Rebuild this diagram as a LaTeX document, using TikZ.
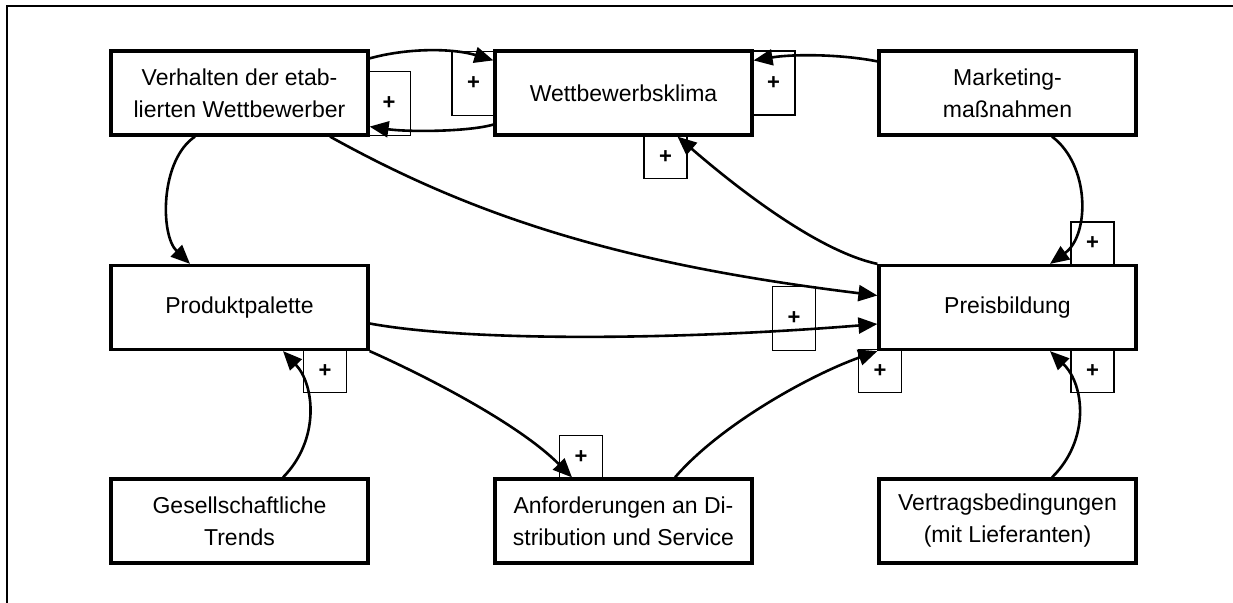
\documentclass[tikz,border=0pt]{standalone}
\usepackage{fontspec}
\setmainfont{Liberation Sans}
\usetikzlibrary{arrows.meta,calc}
\begin{document}
\begin{tikzpicture}[x=0.5pt,y=-0.5pt,
  factor/.style={draw,line width=1.6pt,fill=white,minimum width=128.5pt,minimum height=42pt,
    inner sep=0pt,align=center,font=\fontsize{11.5}{16}\selectfont},
  plusbox/.style={draw,line width=0.55pt,minimum width=21.5pt,inner sep=0pt,
    font=\fontsize{11}{12}\selectfont\bfseries},
  tall/.style={minimum height=32pt},
  short/.style={minimum height=21.5pt},
  link/.style={line width=1.3pt,-{Triangle[length=9.5pt,width=8pt]}}]
\useasboundingbox (0,0) rectangle (1233,603);
% open frame: top and left edge
\draw[line width=1.1pt] (7,603) -- (7,6) -- (1233,6);

% influence factors
\node[factor] (verh)  at (239.5,93)  {Verhalten der etab-\\lierten Wettbewerber};
\node[factor] (klima) at (623.5,93)  {Wettbewerbsklima};
\node[factor] (mark)  at (1007.5,93) {Marketing-\\maßnahmen};
\node[factor] (prod)  at (239.5,307.5) {Produktpalette};
\node[factor] (preis) at (1007.5,307.5) {Preisbildung};
\node[factor] (ges)   at (239.5,521) {Gesellschaftliche\\Trends};
\node[factor] (anf)   at (623.5,521) {Anforderungen an Di-\\stribution und Service};
\node[factor] (vert)  at (1007.5,521) {Vertragsbedingungen\\(mit Lieferanten)};

% polarity markers
\node[plusbox,tall]  (pa) at (389,103.5)  {+};
\node[plusbox,tall]  (pb) at (473.5,83.5) {+};
\node[plusbox,tall]  (pc) at (773.5,83)   {+};
\node[plusbox,short] (pd) at (665.5,157)  {+};
\node[plusbox,short] (pe) at (1092.5,243.5) {+};
\node[plusbox,tall]  (pf) at (794,318.5)  {+};
\node[plusbox,short] (pg) at (880,371)    {+};
\node[plusbox,short] (ph) at (1092.5,371) {+};
\node[plusbox,short] (pi) at (325,371)    {+};
\node[plusbox,short] (pj) at (581,457)    {+};

% causal links
\draw[link] ($(verh.north east)+(0,9)$) .. controls (407,48) and (452,48) .. ($(klima.north west)+(0,11)$);
\draw[link] ($(klima.south west)+(0,-12)$) .. controls (467,132) and (407,132) .. ($(verh.south east)+(0,-10)$);
\draw[link] ($(mark.north west)+(0,12)$) .. controls (840,54) and (793,54) .. ($(klima.north east)+(0,11)$);
\draw[link] (preis.north west) .. controls (812,250) and (722,175) .. ($(klima.south)+(54,0)$);
\draw[link] ($(verh.south)+(90.5,0)$) .. controls (480,220) and (629,265) .. ($(preis.west)+(0,-12)$);
\draw[link] ($(prod.east)+(0,16)$) .. controls (470,342) and (680,340) .. ($(preis.west)+(0,16.5)$);
\draw[link] ($(verh.south)+(-44.5,0)$) .. controls (160,160) and (160,235) .. ($(prod.north)+(-49.5,0)$);
\draw[link] ($(mark.south)+(44.5,0)$) .. controls (1090,165) and (1090,235) .. ($(preis.north)+(42.5,0)$);
\draw[link] ($(ges.north)+(43.5,0)$) .. controls (320,440) and (315,385) .. ($(prod.south)+(43.5,0)$);
\draw[link] (prod.south east) .. controls (430,378) and (520,425) .. ($(anf.north)+(-51.5,0)$);
\draw[link] ($(anf.north)+(51.5,0)$) .. controls (720,425) and (810,375) .. (preis.south west);
\draw[link] ($(vert.north)+(44.5,0)$) .. controls (1090,440) and (1085,385) .. ($(preis.south)+(42.5,0)$);
\end{tikzpicture}
\end{document}
